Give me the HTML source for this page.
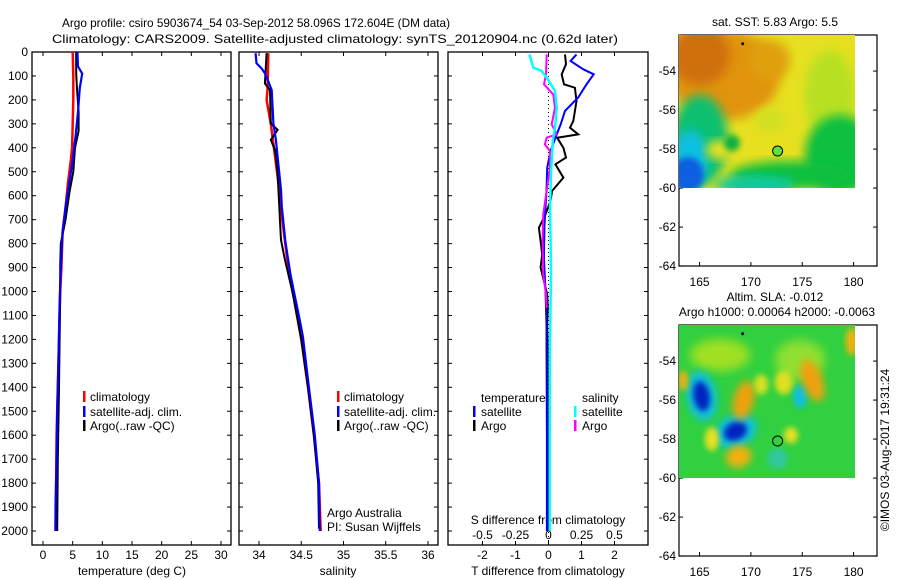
<!DOCTYPE html>
<html><head><meta charset="utf-8">
<style>
html,body{margin:0;padding:0;background:#fff;width:900px;height:580px;overflow:hidden;}
svg{display:block;font-family:"Liberation Sans",sans-serif;font-size:12px;overflow:hidden;}
</style></head>
<body>
<svg id="fig" width="900" height="580" viewBox="0 0 900 580" xmlns="http://www.w3.org/2000/svg">
<defs>
 <filter id="blur" x="-20%" y="-20%" width="140%" height="140%"><feGaussianBlur stdDeviation="5"/></filter>
 <filter id="blur2" x="-30%" y="-30%" width="160%" height="160%"><feGaussianBlur stdDeviation="3"/></filter>
 <filter id="blur3" x="-40%" y="-40%" width="180%" height="180%"><feGaussianBlur stdDeviation="4"/></filter>
 <clipPath id="clipMap1"><rect x="679" y="35" width="176" height="153"/></clipPath>
 <clipPath id="clipMap2"><rect x="679" y="325" width="176" height="153"/></clipPath>
</defs>
<text x="62" y="27" textLength="388" lengthAdjust="spacingAndGlyphs">Argo profile: csiro 5903674_54 03-Sep-2012 58.096S 172.604E (DM data)</text>
<text x="52" y="43" textLength="566" lengthAdjust="spacingAndGlyphs">Climatology: CARS2009. Satellite-adjusted climatology: synTS_20120904.nc (0.62d later)</text>
<g id="axes"></g>
<g id="maps"></g>
<text transform="translate(889,450) rotate(-90)" text-anchor="middle">©IMOS 03-Aug-2017 19:31:24</text>
</svg>
<script>
// ---------- data ----------
const depthTicks = [0,100,200,300,400,500,600,700,800,900,1000,1100,1200,1300,1400,1500,1600,1700,1800,1900,2000];
const tempTicks = [0,5,10,15,20,25,30];
const salTicks = [34,34.5,35,35.5,36];
const salTickLabels = ["34","34.5","35","35.5","36"];
const tdiffTicks = [-2,-1,0,1,2];
const sdiffTicks = [-0.5,-0.25,0,0.25,0.5];
const sdiffTickLabels = ["-0.5","-0.25","0","0.25","0.5"];

const tClimDepth = [0,100,200,300,400,450,550,650,750,900,1000,1200,1400,1600,1800,2000];
const tClimVal   = [5.0,5.1,5.1,5.0,4.9,4.7,4.2,3.8,3.3,3.1,2.9,2.7,2.5,2.3,2.2,2.1];
const tSatDepth = [0,60,90,150,250,350,450,550,650,750,900,1050,1300,1500,1700,1900,2000];
const tSatVal   = [5.8,5.9,6.6,6.2,5.9,5.5,5.0,4.4,3.8,3.3,3.0,2.8,2.6,2.4,2.3,2.1,2.1];
const tArgoDepth = [0,90,140,250,330,400,500,580,700,800,900,1000,1200,1400,1700,2000];
const tArgoVal   = [5.6,5.6,5.7,6.0,6.0,5.4,5.1,4.5,3.8,3.0,2.9,2.9,2.8,2.7,2.5,2.4];

const sClimDepth = [5,159,200,300,437,576,715,855,994,1063,1200,1400,1600,1800,2000];
const sClimVal   = [34.11,34.10,34.09,34.14,34.19,34.24,34.28,34.33,34.40,34.43,34.50,34.58,34.65,34.71,34.73];
const sSatDepth = [5,47,68,89,131,159,298,367,437,506,576,646,715,785,855,924,994,1063,1133,1189,1400,1600,1800,2000];
const sSatVal   = [33.96,33.97,34.03,34.07,34.12,34.15,34.17,34.20,34.22,34.24,34.26,34.27,34.29,34.31,34.34,34.37,34.41,34.45,34.49,34.52,34.59,34.66,34.71,34.72];
const sArgoDepth = [5,131,159,298,325,367,410,506,646,715,785,855,994,1063,1200,1400,1600,1800,1990];
const sArgoVal   = [34.09,34.07,34.13,34.14,34.22,34.14,34.19,34.22,34.24,34.25,34.26,34.30,34.39,34.43,34.50,34.58,34.65,34.70,34.71];

const dTArgoDepth = [10,51,93,135,149,205,288,316,344,358,400,441,469,525,580,622,678,734,789,845,900,956,1012,1068,1137,1207,1500,2000];
const dTArgoVal   = [0.50,0.53,0.40,0.47,0.80,0.85,0.75,0.65,0.90,0.26,0.45,0.53,0.21,0.45,0.11,0.06,-0.09,-0.29,-0.24,-0.19,-0.24,-0.14,-0.04,-0.02,-0.04,-0.03,-0.03,-0.03];
const dTSatDepth = [10,37,72,93,135,190,246,302,358,414,483,580,720,859,998,1137,1207,1600,2000];
const dTSatVal   = [0.85,0.67,1.05,1.37,1.15,0.90,0.50,0.37,0.21,0.06,-0.04,-0.06,-0.12,-0.14,-0.09,-0.06,-0.06,-0.05,-0.05];
const dSSatDepth = [10,65,79,107,163,232,316,372,511,650,789,928,1207,1600,2000];
const dSSatVal   = [-0.145,-0.115,-0.052,-0.014,0.049,0.062,0.049,0.032,0.019,0.011,0.016,0.019,0.011,0.010,0.010];
const dSArgoDepth = [10,93,135,177,232,302,344,358,386,414,483,580,678,789,928,1012,1068];
const dSArgoVal   = [-0.014,-0.019,-0.034,0.036,0.049,0.024,0.062,-0.014,-0.027,0.011,0.011,-0.014,-0.040,-0.045,-0.040,-0.019,-0.014];

const lonTicks = [165,170,175,180];
const latTicks = [-54,-56,-58,-60,-62,-64];
const argoLon = 172.6, argoLat = -58.1;

// ---------- helpers ----------
const NS = "http://www.w3.org/2000/svg";
const axesG = document.getElementById('axes');
const mapsG = document.getElementById('maps');
function mk(tag, parent){ const e=document.createElementNS(NS,tag); parent.appendChild(e); return e; }
const TOP=52, BOT=545;
function yDepth(d){ return TOP + d*0.2395; }
function lin(v,v0,p0,v1,p1){ return p0+(v-v0)*(p1-p0)/(v1-v0); }
const xT = v=>lin(v,0,43,30,221);
const xS = v=>lin(v,34,259,36,428);
const xDT = v=>lin(v,0,548.5,2,614.5);
const xDS = v=>lin(v,0,548.5,0.5,614.5);

function frame(x0,x1,name){
  const r=mk('rect',axesG);
  r.setAttribute('x',x0);r.setAttribute('y',TOP);r.setAttribute('width',x1-x0);r.setAttribute('height',BOT-TOP);
  r.setAttribute('fill','none');r.setAttribute('stroke','#000');r.setAttribute('stroke-width','1.3');
  
  
  depthTicks.forEach(d=>{
    const y=yDepth(d);
    const a=mk('line',axesG);a.setAttribute('x1',x0);a.setAttribute('x2',x0+4);a.setAttribute('y1',y);a.setAttribute('y2',y);a.setAttribute('stroke','#000');
    const b=mk('line',axesG);b.setAttribute('x1',x1);b.setAttribute('x2',x1-4);b.setAttribute('y1',y);b.setAttribute('y2',y);b.setAttribute('stroke','#000');
  });
}
function xticks(vals,labels,fx,ly,name){
  vals.forEach((v,i)=>{
    const x=fx(v);
    [[BOT,BOT-4],[TOP,TOP+4]].forEach(p=>{const l=mk('line',axesG);l.setAttribute('x1',x);l.setAttribute('x2',x);l.setAttribute('y1',p[0]);l.setAttribute('y2',p[1]);l.setAttribute('stroke','#000');});
    if(labels){
      const t=mk('text',axesG);t.setAttribute('x',x);t.setAttribute('y',ly);t.setAttribute('text-anchor','middle');t.textContent=labels[i];
      
      
    }
  });
}
function line(ds,vs,fx,color,name,w){
  const p=mk('polyline',axesG);
  p.setAttribute('points',ds.map((d,i)=>fx(vs[i]).toFixed(1)+','+yDepth(d).toFixed(1)).join(' '));
  p.setAttribute('fill','none');p.setAttribute('stroke',color);p.setAttribute('stroke-width',w||2);p.setAttribute('stroke-linejoin','miter');
  
  
}
function text(x,y,s,name,anchor){
  const t=mk('text',axesG);t.setAttribute('x',x);t.setAttribute('y',y);if(anchor)t.setAttribute('text-anchor',anchor);t.textContent=s;
  
  
  return t;
}
function legBar(x,y,color,name){
  const r=mk('rect',axesG);r.setAttribute('x',x);r.setAttribute('y',y-10);r.setAttribute('width',2.5);r.setAttribute('height',11);r.setAttribute('fill',color);
  
  
}

// ---------- panel 1: temperature ----------
frame(32,231,'temperature-panel');
depthTicks.forEach(d=>{
  const t=text(28,yDepth(d)+4,String(d),'depth-tick-label','end');
});
xticks(tempTicks,tempTicks.map(String),xT,559,'temperature-tick-label');
text(132,575,'temperature (deg C)','temperature-axis-title','middle');
line(tClimDepth,tClimVal,xT,'#ff0000','temperature-climatology-line',2.5);
line(tArgoDepth,tArgoVal,xT,'#000000','temperature-argo-line',2);
line(tSatDepth,tSatVal,xT,'#0000ff','temperature-satellite-line',2.2);
legBar(83,401,'#ff0000','legend-climatology-swatch'); text(90,401,'climatology','legend-climatology');
legBar(83,416,'#0000ff','legend-satellite-swatch'); text(90,416,'satellite-adj. clim.','legend-satellite');
legBar(83,430,'#000000','legend-argo-swatch'); text(90,430,'Argo(..raw -QC)','legend-argo');

// ---------- panel 2: salinity ----------
frame(239,438,'salinity-panel');
xticks(salTicks,salTickLabels,xS,559,'salinity-tick-label');
text(338,575,'salinity','salinity-axis-title','middle');
line(sClimDepth,sClimVal,xS,'#ff0000','salinity-climatology-line',2.5);
line(sArgoDepth,sArgoVal,xS,'#000000','salinity-argo-line',2);
line(sSatDepth,sSatVal,xS,'#0000ff','salinity-satellite-line',2.2);
legBar(337,401,'#ff0000','legend2-climatology-swatch'); text(344,401,'climatology','legend2-climatology');
legBar(337,416,'#0000ff','legend2-satellite-swatch'); text(344,416,'satellite-adj. clim.','legend2-satellite');
legBar(337,430,'#000000','legend2-argo-swatch'); text(344,430,'Argo(..raw -QC)','legend2-argo');
text(327,517,'Argo Australia','argo-australia-label');
text(327,531,'PI: Susan Wijffels','pi-label');

// ---------- panel 3: differences ----------
frame(448,648,'difference-panel');
xticks(tdiffTicks,tdiffTicks.map(String),xDT,559,'tdiff-tick-label');
sdiffTicks.forEach((v,i)=>{ text(xDS(v),539,sdiffTickLabels[i],'sdiff-tick-label','middle'); });
text(548,524,'S difference from climatology','sdiff-axis-title','middle');
text(548,575,'T difference from climatology','tdiff-axis-title','middle');
(function(){const l=mk('line',axesG);l.setAttribute('x1',xDT(0));l.setAttribute('x2',xDT(0));l.setAttribute('y1',TOP);l.setAttribute('y2',BOT);l.setAttribute('stroke','#000');l.setAttribute('stroke-dasharray','1,3');

})();
line(dTArgoDepth,dTArgoVal,xDT,'#000000','tdiff-argo-line',2);
line(dTSatDepth,dTSatVal,xDT,'#0000ff','tdiff-satellite-line',2);
line(dSArgoDepth,dSArgoVal,xDS,'#ff00ff','sdiff-argo-line',2);
line(dSSatDepth,dSSatVal,xDS,'#00ffff','sdiff-satellite-line',2.5);
text(481,402,'temperature','legend3-temperature-header');
text(582,402,'salinity','legend3-salinity-header');
legBar(473,416,'#0000ff','legend3-tsat-swatch'); text(481,416,'satellite','legend3-tsat');
legBar(473,430,'#000000','legend3-targo-swatch'); text(481,430,'Argo','legend3-targo');
legBar(574,416,'#00ffff','legend3-ssat-swatch'); text(582,416,'satellite','legend3-ssat');
legBar(574,430,'#ff00ff','legend3-sargo-swatch'); text(582,430,'Argo','legend3-sargo');

// ---------- maps ----------
function mapAxes(oy,title1,title2,nm){
  const mx=lon=>679+(lon-163)*10.27;
  const my=lat=>oy+35+(-52.15-lat)*19.5;
  const r=mk('rect',mapsG);r.setAttribute('x',679);r.setAttribute('y',oy+35);r.setAttribute('width',198);r.setAttribute('height',231);
  r.setAttribute('fill','none');r.setAttribute('stroke','#000');r.setAttribute('stroke-width','1.2');
  
  
  lonTicks.forEach(v=>{
    const x=mx(v);
    [[oy+266,oy+262],[oy+35,oy+39]].forEach(p=>{const l=mk('line',mapsG);l.setAttribute('x1',x);l.setAttribute('x2',x);l.setAttribute('y1',p[0]);l.setAttribute('y2',p[1]);l.setAttribute('stroke','#000');});
    const t=mk('text',mapsG);t.setAttribute('x',x);t.setAttribute('y',oy+286);t.setAttribute('text-anchor','middle');t.textContent=String(v);
    
    
  });
  latTicks.forEach(v=>{
    const y=my(v);
    [[679,683],[877,873]].forEach(p=>{const l=mk('line',mapsG);l.setAttribute('x1',p[0]);l.setAttribute('x2',p[1]);l.setAttribute('y1',y);l.setAttribute('y2',y);l.setAttribute('stroke','#000');});
    const t=mk('text',mapsG);t.setAttribute('x',676);t.setAttribute('y',y+4);t.setAttribute('text-anchor','end');t.textContent=String(v);
    
    
  });
  const t1=mk('text',mapsG);t1.setAttribute('x',775);t1.setAttribute('y',oy+(title2?11:26));t1.setAttribute('text-anchor','middle');t1.textContent=title1;
  
  
  if(title2){const t2=mk('text',mapsG);t2.setAttribute('x',777);t2.setAttribute('y',oy+26);t2.setAttribute('text-anchor','middle');t2.textContent=title2;
  
  }
  return {mx,my};
}
function blob(g,cx,cy,rx,ry,col,rot,f){
  const e=mk('ellipse',g);e.setAttribute('cx',cx);e.setAttribute('cy',cy);e.setAttribute('rx',rx);e.setAttribute('ry',ry);e.setAttribute('fill',col);
  if(rot)e.setAttribute('transform',`rotate(${rot} ${cx} ${cy})`);
  e.setAttribute('filter',f||'url(#blur)');
}
// Map 1 SST
(function(){
  const {mx,my}=mapAxes(0,'sat. SST: 5.83 Argo: 5.5',null,'sst-map');
  const g=mk('g',mapsG);g.setAttribute('clip-path','url(#clipMap1)');
  
  
  const b=mk('rect',g);b.setAttribute('x',670);b.setAttribute('y',25);b.setAttribute('width',200);b.setAttribute('height',175);b.setAttribute('fill','#e6e020');
  blob(g,725,75,55,45,'#e0940c');
  blob(g,700,55,30,30,'#d0700c');
  blob(g,770,60,20,20,'#e0a010');
  blob(g,830,95,25,45,'#b8e020');
  blob(g,840,155,35,40,'#10c040');
  blob(g,790,175,60,14,'#10c040');
  blob(g,755,185,40,10,'#10c8a0');
  blob(g,700,140,28,45,'#10c070');
  blob(g,690,160,18,30,'#10c0e0');
  blob(g,688,175,16,18,'#1060e0','0','url(#blur2)');
  blob(g,720,150,14,10,'#e6e020');
  blob(g,732,143,8,8,'#10b040','0','url(#blur2)');
  blob(g,770,120,15,12,'#d0e020');
  const c=mk('circle',mapsG);c.setAttribute('cx',mx(argoLon));c.setAttribute('cy',my(argoLat));c.setAttribute('r',5);c.setAttribute('fill','#60e040');c.setAttribute('stroke','#000');
  
  
  const s=mk('circle',mapsG);s.setAttribute('cx',mx(169.2));s.setAttribute('cy',my(-52.6));s.setAttribute('r',1.5);s.setAttribute('fill','#000');
})();
// Map 2 SLA
(function(){
  const {mx,my}=mapAxes(290,'Altim. SLA: -0.012','Argo h1000: 0.00064 h2000: -0.0063','sla-map');
  const g=mk('g',mapsG);g.setAttribute('clip-path','url(#clipMap2)');
  
  
  const b=mk('rect',g);b.setAttribute('x',670);b.setAttribute('y',315);b.setAttribute('width',200);b.setAttribute('height',175);b.setAttribute('fill','#30d040');
  blob(g,720,355,30,16,'#a0e020');
  blob(g,800,360,25,20,'#90e030');
  blob(g,mx(165.2),my(-55.8),15,25,'#10c0e0','-10','url(#blur3)');
  blob(g,mx(165.2),my(-55.8),8,15,'#0020c0','-10','url(#blur2)');
  blob(g,mx(168.5),my(-57.6),22,16,'#10c0e0','-25','url(#blur3)');
  blob(g,mx(168.5),my(-57.6),12,9,'#0020c0','-25','url(#blur2)');
  blob(g,mx(174.8),my(-55.8),7,12,'#10c0e0','0','url(#blur2)');
  blob(g,mx(169.3),my(-56),10,20,'#f0a010','15','url(#blur3)');
  blob(g,mx(176),my(-55),10,22,'#f0a010','-20','url(#blur3)');
  blob(g,mx(173.2),my(-55.1),9,12,'#e0e020','0','url(#blur2)');
  blob(g,mx(171),my(-55.2),7,10,'#d8e020','0','url(#blur2)');
  blob(g,mx(168.8),my(-58.9),13,11,'#f0b010','-20','url(#blur3)');
  blob(g,mx(173.9),my(-57.8),7,8,'#e8e020','0','url(#blur2)');
  blob(g,mx(166.2),my(-58),7,12,'#e8e020','0','url(#blur2)');
  blob(g,mx(179.8),my(-53),6,14,'#f0b010','0','url(#blur2)');
  blob(g,mx(172.6),my(-59),10,10,'#30c8a0','0','url(#blur2)');
  blob(g,mx(163.4),my(-55),5,10,'#f0b010','0','url(#blur2)');
  const c=mk('circle',mapsG);c.setAttribute('cx',mx(argoLon));c.setAttribute('cy',my(argoLat));c.setAttribute('r',5);c.setAttribute('fill','none');c.setAttribute('stroke','#000');
  
  
  const s=mk('circle',mapsG);s.setAttribute('cx',mx(169.2));s.setAttribute('cy',my(-52.6));s.setAttribute('r',1.5);s.setAttribute('fill','#000');
})();
</script>
</body></html>
